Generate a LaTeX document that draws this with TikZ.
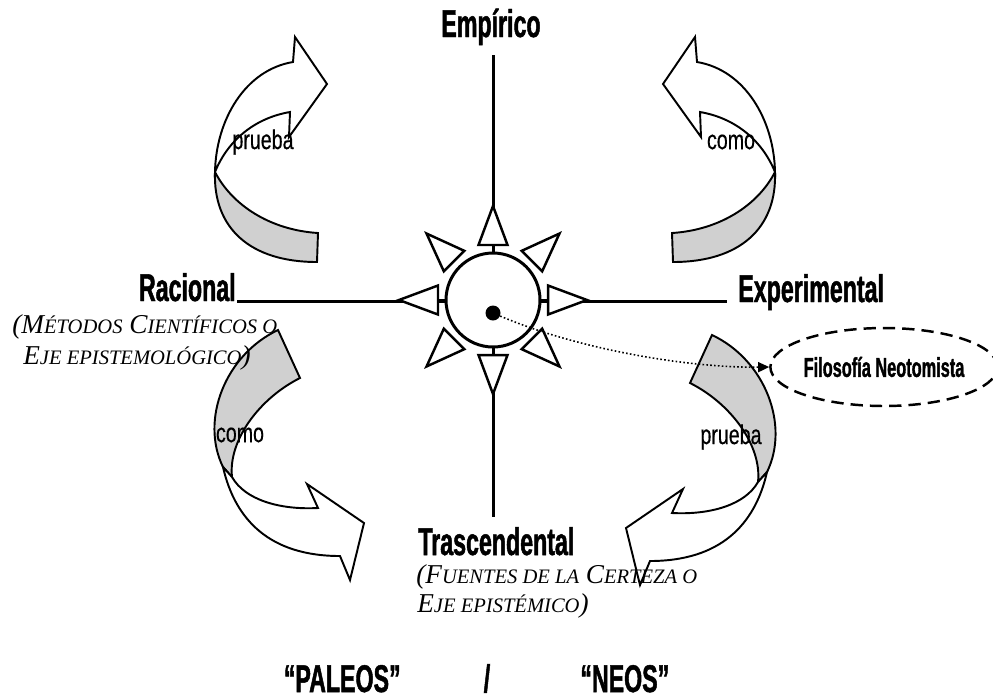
\documentclass[tikz,border=0pt]{standalone}
\usepackage{fontspec}
\newfontfamily\agency[FakeStretch=0.6,FakeBold=1.2]{Liberation Sans}
\newfontfamily\agencyreg[FakeStretch=0.72,FakeBold=0.4]{Liberation Sans}
\newfontfamily\garamond{Liberation Serif}
\usetikzlibrary{arrows.meta,shapes.geometric}
\definecolor{backgray}{RGB}{208,208,208}
\newcommand\smc[1]{{\fontsize{11.7}{12}\selectfont #1}}
\tikzset{
  axisline/.style={line width=1.7pt},
  ribbon/.style={draw, line width=1.1pt, line join=miter},
  tri/.style={draw, fill=white, line width=1.4pt, line join=miter},
  lab/.style={inner sep=0pt, font={\agency\bfseries\fontsize{22}{24}\selectfont}},
  arrlab/.style={inner sep=0pt, font={\agencyreg\fontsize{15.5}{17}\selectfont}},
  note/.style={inner sep=0pt, font={\garamond\itshape\fontsize{15.5}{17}\selectfont}},
}
\newcommand\ulribbon{%
  \path[ribbon, fill=white] (215,172) .. controls (216,120) and (245,70) .. (293,62)
     -- (295,37) -- (327,84) -- (289,137) -- (290,112)
     .. controls (255,118) and (228,140) .. (215,172) -- cycle;
  \path[ribbon, fill=backgray] (215,172) .. controls (232,205) and (270,230) .. (318,233)
     -- (317,262) .. controls (250,262) and (213,228) .. (215,172) -- cycle;}
\newcommand\llribbon{%
  \path[ribbon, fill=backgray] (278,330) .. controls (225,355) and (200,420) .. (223,467)
     -- (232,477) .. controls (228,440) and (260,398) .. (300,378) -- cycle;
  \path[ribbon, fill=white] (223,467) .. controls (235,520) and (270,556) .. (340,556)
     -- (350,580) -- (364,523) -- (307,484) -- (318,508)
     .. controls (280,510) and (245,500) .. (232,477) -- cycle;}
\begin{document}
\begin{tikzpicture}[x=0.02cm,y=-0.02cm]
\useasboundingbox (0,0) rectangle (993,698);

% ---------- curved arrows ----------
\ulribbon
\begin{scope}[shift={(990,0)}, xscale=-1]
  \ulribbon
\end{scope}
\llribbon
\begin{scope}[shift={(990,5)}, xscale=-1]
  \llribbon
\end{scope}

\node[arrlab] (l1) at (263,142) {prueba};
\node[arrlab] (l2) at (731,142) {como};
\node[arrlab] (l3) at (240,435) {como};
\node[arrlab] (l4) at (731,437) {prueba};

% ---------- axes ----------
\coordinate (vtop) at (493,55);
\coordinate (vbot) at (493,517);
\coordinate (hl) at (237,301);
\coordinate (hr) at (727,301);
\draw[axisline] (vtop) -- (vbot);
\draw[axisline] (hl) -- (hr);

\node[circle, draw, fill=white, line width=1.7pt, minimum size=1.88cm, inner sep=0pt] (C) at (493,300) {};
\begin{scope}[shift={(493,300)}]
  \foreach \a in {0,45,...,315}
    \draw[tri] (\a:94) -- ({\a+14.77}:56.9) -- ({\a-14.77}:56.9) -- cycle;
  \foreach \a in {0,90,180,270}
    \draw[line width=1.4pt] (\a:47) -- (\a:55);
\end{scope}
\node[circle, fill=black, inner sep=0pt, minimum size=0.3cm] (dot) at (493,313) {};

% ---------- ellipse ----------
\node[ellipse, draw, dashed, line width=1.4pt, dash pattern=on 7pt off 4pt,
      minimum width=4.14cm, minimum height=1.56cm, inner sep=0pt,
      font={\agency\bfseries\fontsize{15.5}{17}\selectfont}] (fil) at (884,367) {Filosofía Neotomista};
\draw[line width=0.9pt, dash pattern=on 0.9pt off 1.3pt, -{Triangle[length=0.22cm,width=0.2cm]}]
  (dot) .. controls (580,350) and (690,368) .. (fil.west);

% ---------- labels ----------
\node[lab, anchor=base] (emp) at (491,37) {Empírico};
\node[lab, anchor=base east] (rac) at (236,301) {Racional};
\node[lab, anchor=base west] (expl) at (738,302) {Experimental};
\node[lab, anchor=base west] (tra) at (418,555) {Trascendental};

\node[note, anchor=base west] (n1) at (12,333) {(M\smc{ÉTODOS} C\smc{IENTÍFICOS O}};
\node[note, anchor=base west] (n2) at (23,364) {E\smc{JE EPISTEMOLÓGICO})};
\node[note, anchor=base west] (n3) at (416,583) {(F\smc{UENTES DE LA} C\smc{ERTEZA O}};
\node[note, anchor=base west] (n4) at (417,612) {E\smc{JE EPISTÉMICO})};

\node[lab, anchor=base east] (pal) at (401,692) {“PALEOS”};
\node[lab, anchor=base] (sl) at (487,692) {/};
\node[lab, anchor=base west] (neo) at (580,692) {“NEOS”};
\end{tikzpicture}
\end{document}
